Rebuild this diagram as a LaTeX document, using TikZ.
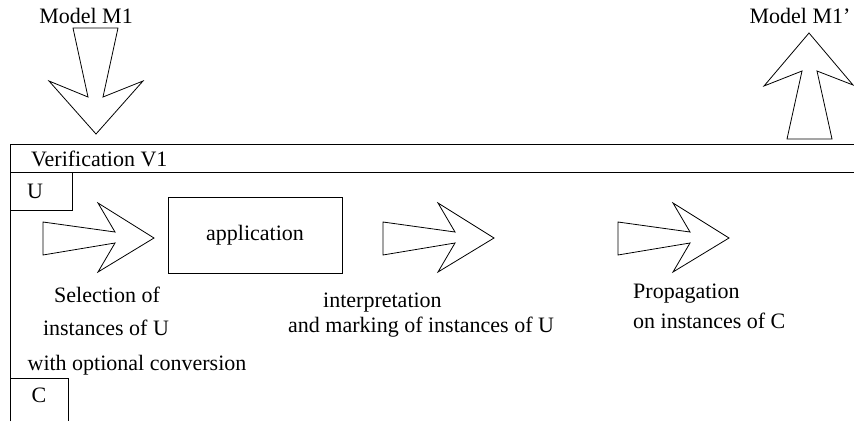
\documentclass[tikz,border=0pt]{standalone}
\usepackage{fontspec}
\setmainfont{Liberation Serif}
\begin{document}
\begin{tikzpicture}[x=1pt,y=-1pt,
  txt/.style={anchor=base west,inner sep=0pt,font=\fontsize{22}{26}\selectfont},
  ctxt/.style={anchor=base,inner sep=0pt,font=\fontsize{22}{26}\selectfont},
  blockarrow/.style={draw=black,line width=0.8pt,line join=miter,fill=white},
  frame/.style={draw=black,line width=0.8pt}]
\useasboundingbox (0,0) rectangle (854,421);
% frame lines
\draw[frame] (10,421) -- (10,144) -- (854,144);
\draw[frame] (10,172) -- (854,172);
% U box
\draw[frame] (10,172) rectangle (72,210);
\node[ctxt] (U) at (35,198) {U};
% C box
\draw[frame] (10,421) -- (10,378) -- (68,378) -- (68,421);
\node[ctxt] (C) at (39,402) {C};
% Verification
\node[txt] (ver) at (31,166) {Verification V1};
% Model texts
\node[ctxt] (m1) at (86,23) {Model M1};
\node[ctxt] (m1p) at (800,23) {Model M1'};
% down arrow
\draw[blockarrow] (73,28) -- (118,28) -- (103,97) -- (143,81) -- (96,134) -- (49,81) -- (88,97) -- cycle;
% up arrow
\draw[blockarrow] (787,139) -- (832,139) -- (817,71) -- (853,85) -- (809,33) -- (764,86) -- (802,71) -- cycle;
% horizontal block arrows
\foreach \L in {43,383,618}{
  \draw[blockarrow] (\L,222) -- (\L+72,232) -- (\L+55,203) -- (\L+111,238)
    -- (\L+55,272) -- (\L+72,243) -- (\L,255) -- cycle;
}
% application box
\node[draw=black,line width=0.8pt,minimum width=174pt,minimum height=76pt,inner sep=0pt,
  font=\fontsize{22}{26}\selectfont] (app) at (255,235) {application};
% labels
\node[ctxt] (s1) at (107,302) {Selection of};
\node[ctxt] (s2) at (106,335) {instances of U};
\node[ctxt] (s3) at (137,370) {with optional conversion};
\node[txt] (i1) at (323,307) {interpretation};
\node[txt] (i2) at (288,332) {and marking of instances of U};
\node[txt] (p1) at (633,298) {Propagation};
\node[txt] (p2) at (633,328) {on instances of C};
\end{tikzpicture}
\end{document}
